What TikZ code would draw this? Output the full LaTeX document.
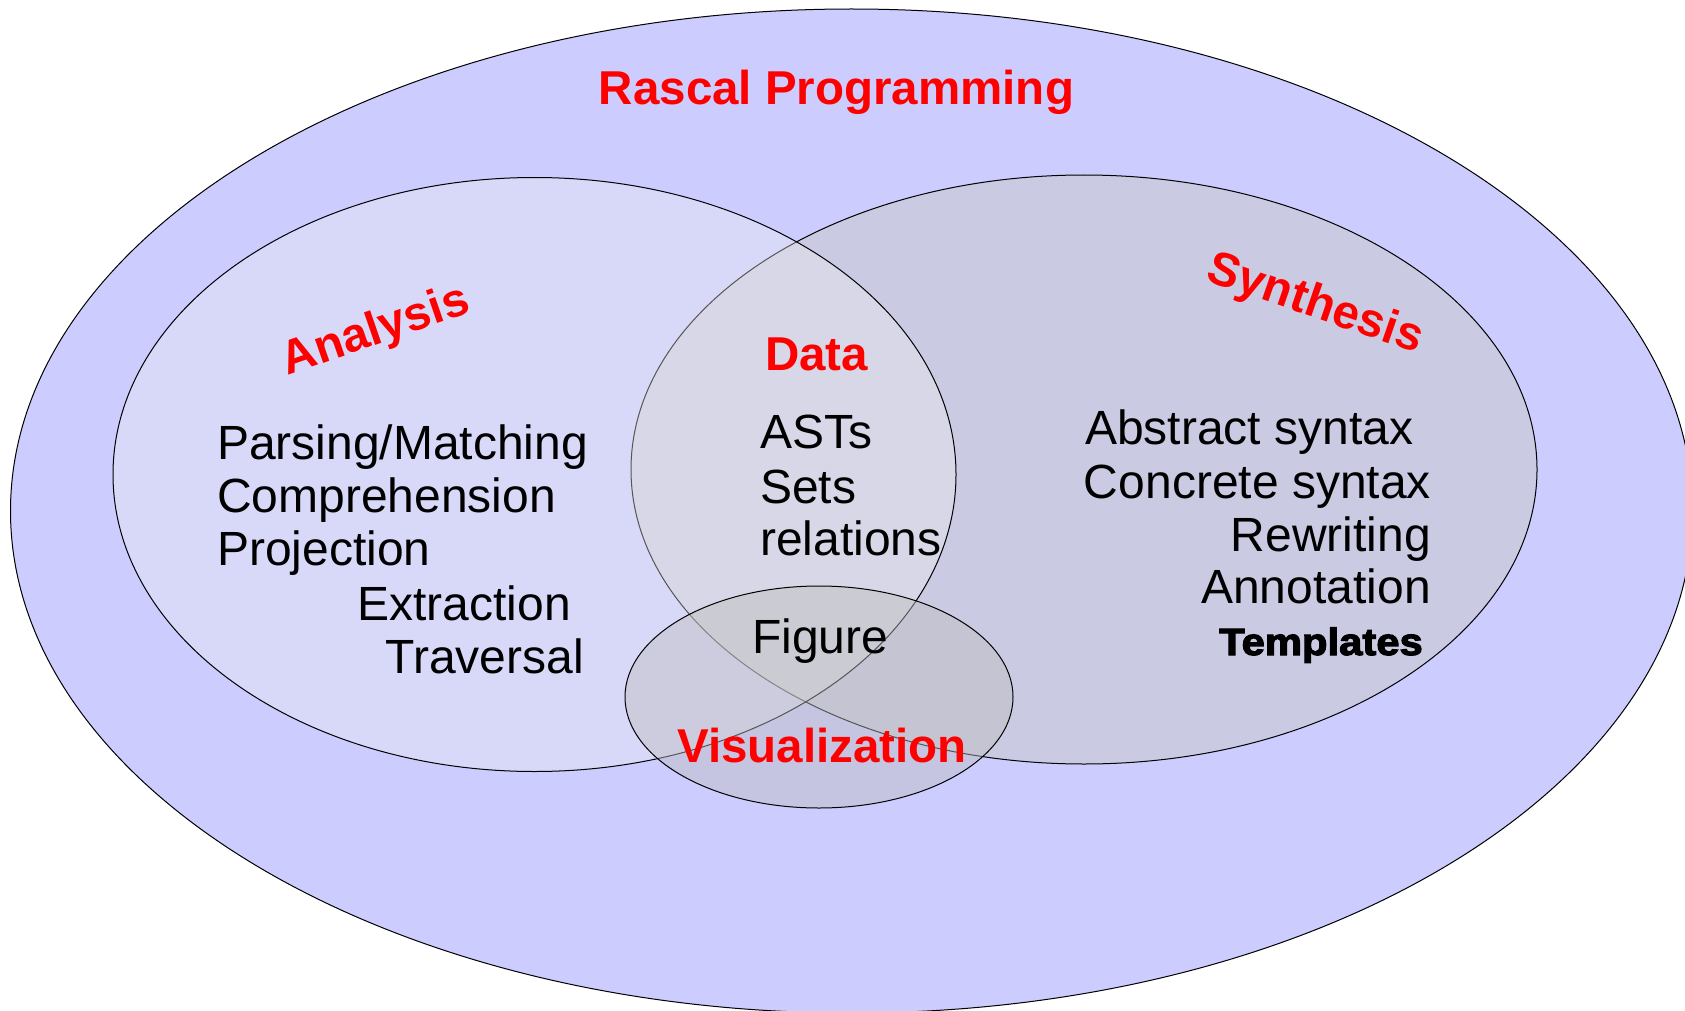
\documentclass[tikz,border=0pt]{standalone}
\usepackage{fontspec}
\setmainfont{Liberation Sans}
\newfontfamily\heavyfont[FakeBold=3,FakeStretch=1.1]{Liberation Sans Bold}
\definecolor{outerblue}{HTML}{CCCCFF}
\definecolor{synfill}{RGB}{202,202,202}
\definecolor{anafill}{RGB}{239,239,239}
\definecolor{visfill}{RGB}{190,190,190}
\begin{document}
\begin{tikzpicture}[x=1pt,y=-1pt,
  ell/.style={draw=black,line width=1pt},
  title/.style={text=red,font=\bfseries\fontsize{47.5}{50}\selectfont,inner sep=0pt},
  item/.style={text=black,font=\fontsize{48}{50}\selectfont,inner sep=0pt},
  heavy/.style={text=black,font=\heavyfont\fontsize{38}{40}\selectfont,inner sep=0pt}]
\useasboundingbox (0,0) rectangle (1685,1011);
\clip (0,0) rectangle (1685,1011);
% sets
\filldraw[ell,fill=outerblue] (851.5,511) ellipse [x radius=841,y radius=502];
\filldraw[ell,fill=synfill,fill opacity=0.51] (1084,469.5) ellipse [x radius=453,y radius=294.5];
\filldraw[ell,fill=anafill,fill opacity=0.36] (534.5,474.5) ellipse [x radius=421.5,y radius=297];
\filldraw[ell,fill=visfill,fill opacity=0.45] (819,697) ellipse [x radius=194,y radius=111];
% titles
\node[title,anchor=base] (rascal) at (836.5,105) {Rascal Programming};
\node[title,rotate=19] (analysis) at (376,332) {Analysis};
\node[title,rotate=-19] (synthesis) at (1315,305) {Synthesis};
\node[title,anchor=base west] (data) at (765,370) {Data};
\node[title,anchor=base west] (vis) at (677,762) {Visualization};
% analysis items
\node[item,anchor=base west] (parsing) at (217,459) {Parsing/Matching};
\node[item,anchor=base west] (compr) at (217,512) {Comprehension};
\node[item,anchor=base west] (proj) at (217,565) {Projection};
\node[item,anchor=base east] (extr) at (571,620) {Extraction};
\node[item,anchor=base east] (trav) at (584,673) {Traversal};
% data items
\node[item,anchor=base west] (asts) at (760,448) {ASTs};
\node[item,anchor=base west] (sets) at (760,503) {Sets};
\node[item,anchor=base west] (rels) at (760,555) {relations};
\node[item,anchor=base west] (fig) at (752,653) {Figure};
% synthesis items
\node[item,anchor=base west] (abs) at (1085,444) {Abstract syntax};
\node[item,anchor=base east] (conc) at (1431,498) {Concrete syntax};
\node[item,anchor=base east] (rew) at (1431,551) {Rewriting};
\node[item,anchor=base east] (ann) at (1431,603) {Annotation};
\node[heavy,anchor=base east] (tmpl) at (1423,655) {Templates};
\end{tikzpicture}
\end{document}
